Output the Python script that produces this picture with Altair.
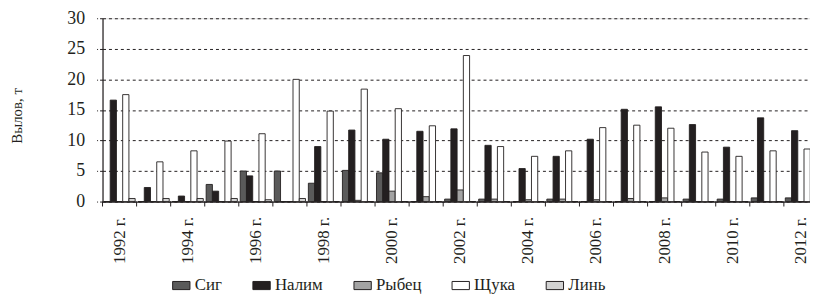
import altair as alt
import pandas as pd

years = list(range(1992, 2013))
species = ["Сиг", "Налим", "Рыбец", "Щука", "Линь"]
colors = ["#5a5a5a", "#231f20", "#a3a3a3", "#ffffff", "#d2d2d2"]

sig = [0, 0, 0, 2.8, 5.0, 5.0, 3.0, 5.1, 4.7, 0, 0.4, 0.4, 0, 0.4, 0, 0, 0, 0.4, 0.4, 0.6, 0.6]
nalim = [16.6, 2.3, 0.9, 1.7, 4.2, 0, 9.0, 11.7, 10.2, 11.5, 11.9, 9.2, 5.4, 7.4, 10.2, 15.1, 15.5, 12.6, 8.9, 13.7, 11.6]
rybets = [0, 0, 0, 0, 0, 0, 0, 0.2, 1.7, 0.8, 1.9, 0.4, 0.3, 0.4, 0.3, 0.5, 0.6, 0, 0, 0, 0]
shchuka = [17.5, 6.5, 8.3, 9.9, 11.1, 20.0, 14.8, 18.4, 15.2, 12.4, 23.9, 9.0, 7.4, 8.3, 12.1, 12.5, 12.0, 8.1, 7.4, 8.3, 8.6]
lin = [0.5, 0.5, 0.5, 0.5, 0.3, 0.5, 0, 0, 0, 0, 0, 0, 0, 0, 0, 0, 0, 0, 0, 0, 0]

series = [sig, nalim, rybets, shchuka, lin]
rows = []
for name, vals in zip(species, series):
    for y, v in zip(years, vals):
        rows.append({"year": y, "species": name, "value": v})
df = pd.DataFrame(rows)
ticks_df = pd.DataFrame({"year": years})

FONT = "'Liberation Serif', 'Times New Roman', serif"
INK = "#231f20"
H = 185

x_enc = alt.X(
    "year:O",
    scale=alt.Scale(paddingInner=0, paddingOuter=0, range=[0, 722]),
    axis=alt.Axis(
        title=None,
        labelAngle=270,
        labelAlign="right",
        labelBaseline="middle",
        labelExpr="datum.value % 2 == 0 ? datum.value + ' г.' : ''",
        labelFont=FONT,
        labelFontSize=17,
        labelColor=INK,
        labelPadding=15,
        ticks=False,
        domainColor=INK,
        domainWidth=1.2,
        grid=False,
    ),
)

bars = alt.Chart(df).mark_bar(stroke=INK, strokeWidth=0.9).encode(
    x=x_enc,
    xOffset=alt.XOffset(
        "species:N", sort=species, scale=alt.Scale(paddingOuter=0.23, paddingInner=0)
    ),
    y=alt.Y(
        "value:Q",
        scale=alt.Scale(domain=[0, 30]),
        axis=alt.Axis(
            title="Вылов, т",
            titleFont=FONT,
            titleFontSize=15,
            titleFontWeight="normal",
            titleColor=INK,
            titleAngle=270,
            titleBaseline="alphabetic",
            titleX=-82,
            titleY=98,
            values=[0, 5, 10, 15, 20, 25, 30],
            labelFont=FONT,
            labelFontSize=18,
            labelColor=INK,
            labelPadding=12,
            tickSize=6,
            tickDash=[3, 2],
            tickColor=INK,
            domainColor=INK,
            domainWidth=1.2,
            grid=True,
            gridDash=[3, 3],
            gridColor=INK,
            gridWidth=1,
        ),
    ),
    color=alt.Color(
        "species:N",
        scale=alt.Scale(domain=species, range=colors),
        legend=alt.Legend(
            title=None,
            orient="none",
            legendX=70,
            legendY=260,
            direction="horizontal",
            symbolType="M-1,-0.47H1V0.47H-1Z",
            symbolSize=306,
            symbolStrokeColor=INK,
            symbolStrokeWidth=1,
            labelFont=FONT,
            labelFontSize=17,
            labelFontWeight="normal",
            labelColor=INK,
            labelOffset=4,
            columnPadding=28,
        ),
    ),
)

tick_marks = alt.Chart(ticks_df).mark_rule(color=INK, strokeWidth=1).encode(
    x=alt.X("year:O", bandPosition=0),
    y=alt.value(H),
    y2=alt.value(H + 5),
)

chart = (
    alt.layer(bars, tick_marks)
    .properties(
        width=714,
        height=H,
        autosize=alt.AutoSizeParams(type="none"),
        padding={"left": 95.4, "top": 9, "right": 0, "bottom": 96},
    )
    .configure_view(stroke=None)
    .configure(background="white", font=FONT)
)

chart.save("out.html", embed_options={"renderer": "svg", "actions": False})
